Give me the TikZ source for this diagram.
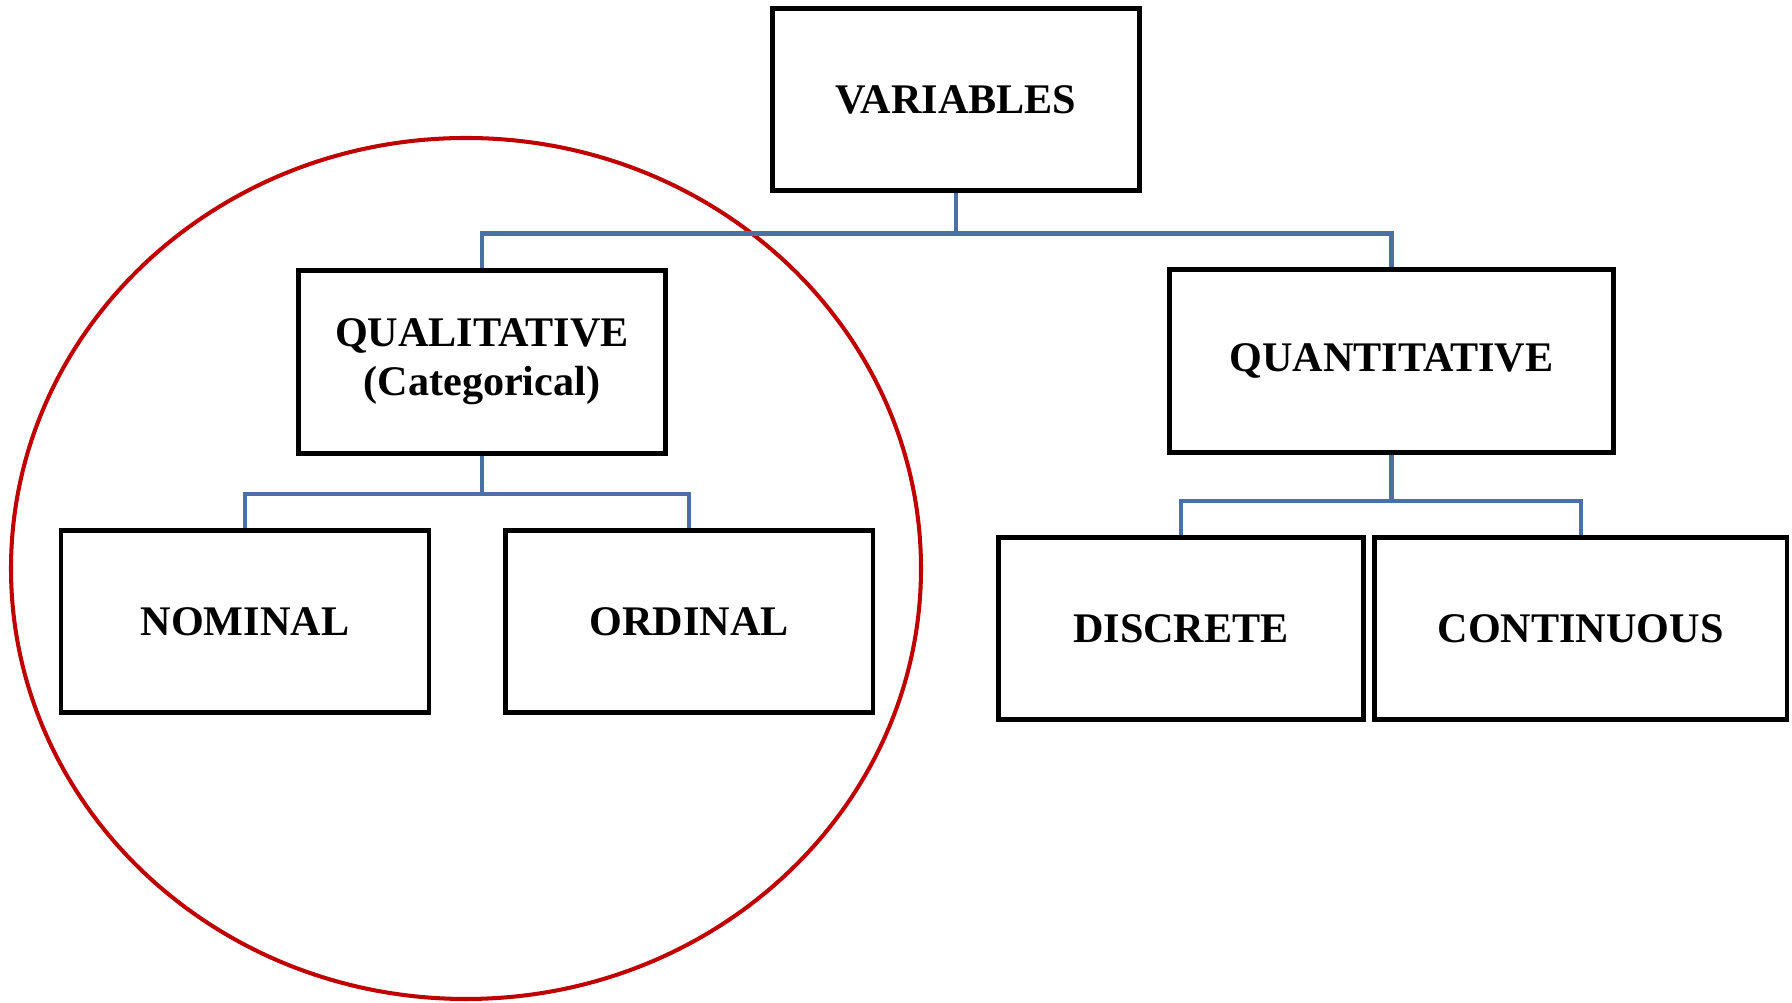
\documentclass[tikz,border=0pt]{standalone}
\usepackage{fontspec}
\setmainfont{Liberation Serif}
\usetikzlibrary{positioning}
\definecolor{linkblue}{RGB}{74,112,166}
\definecolor{groupred}{RGB}{192,0,0}

\begin{document}
\begin{tikzpicture}[
    box/.style={rectangle, draw=black, fill=white, line width=1.3pt, minimum height=1.825cm, align=center, font=\fontsize{12}{14}\selectfont\bfseries},
    link/.style={draw=linkblue, line width=1.15pt},
    group/.style={draw=groupred, line width=1.15pt}
]

\useasboundingbox (0,0) rectangle (17.92,-10.03);

% Qualitative group
\draw[group] (4.66,-5.685) ellipse [x radius=4.55cm, y radius=4.305cm];

% Boxes
\node[box, minimum width=3.665cm] (vars) at (9.56,-0.995) {VARIABLES};
\node[box, minimum width=3.675cm] (qual) at (4.82,-3.62) {QUALITATIVE\\(Categorical)};
\node[box, minimum width=4.435cm] (quant) at (13.915,-3.61) {QUANTITATIVE};
\node[box, minimum width=3.68cm] (nom) at (2.45,-6.215) {NOMINAL};
\node[box, minimum width=3.675cm, right=0.72cm of nom] (ord) {ORDINAL};
\node[box, minimum width=3.655cm] (disc) at (11.81,-6.285) {DISCRETE};
\node[box, minimum width=4.125cm, right=0.06cm of disc] (cont) {CONTINUOUS};

% Connectors
\draw[link] (vars.south) -- ++(0,-0.405) -| (qual.north);
\draw[link] (vars.south) -- ++(0,-0.405) -| (quant.north);
\draw[link] (qual.south) -- ++(0,-0.38) -| (nom.north);
\draw[link] (qual.south) -- ++(0,-0.38) -| (ord.north);
\draw[link] (quant.south) -- ++(0,-0.46) -| (disc.north);
\draw[link] (quant.south) -- ++(0,-0.46) -| (cont.north);

\end{tikzpicture}
\end{document}
